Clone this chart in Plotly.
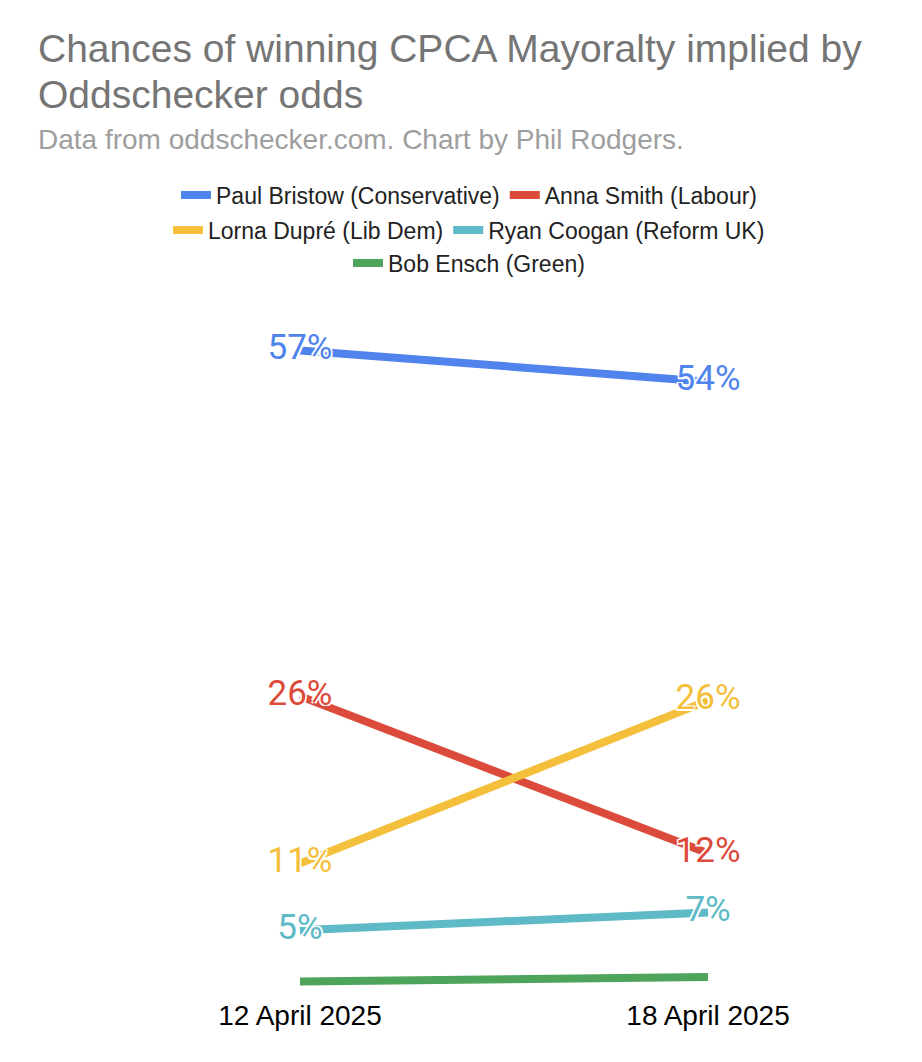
import plotly.graph_objects as go

# Datos (probabilidad implícita, %)
fechas = ["12 April 2025", "18 April 2025"]
candidatos = [
    "Paul Bristow (Conservative)",
    "Anna Smith (Labour)",
    "Lorna Dupré (Lib Dem)",
    "Ryan Coogan (Reform UK)",
    "Bob Ensch (Green)",
]
bristow = [57.0, 54.2]
smith = [26.0, 11.9]
dupre = [11.0, 25.6]
coogan = [5.0, 6.6]
ensch = [0.4, 0.8]

series = [bristow, smith, dupre, coogan, ensch]
colores = ["#5083EC", "#DB4A3A", "#F4C03C", "#5DBAC6", "#4EA45A"]
leyendas = ["legend", "legend", "legend2", "legend2", "legend3"]
con_etiqueta = [True, True, True, True, False]

halo = ("white 1.5px 1.5px 0px, white -1.5px -1.5px 0px, "
        "white 1.5px -1.5px 0px, white -1.5px 1.5px 0px")

fig = go.Figure()
for nombre, valores, color, ley, etq in zip(candidatos, series, colores, leyendas, con_etiqueta):
    fig.add_trace(go.Scatter(
        x=fechas, y=valores, name=nombre, legend=ley,
        mode="lines+text" if etq else "lines",
        text=[f"{v:.0f}%" for v in valores] if etq else None,
        textposition="middle center",
        textfont=dict(family="Roboto", size=35, color=color, shadow=halo),
        line=dict(color=color, width=8),
        cliponaxis=False,
    ))

leyenda_base = dict(orientation="h", x=0.5, xanchor="center", yanchor="middle",
                    font=dict(family="Liberation Sans, Arial", size=23, color="#222222"),
                    bgcolor="rgba(0,0,0,0)", itemwidth=30, tracegroupgap=0)

fig.update_layout(
    width=922, height=1062,
    margin=dict(l=0, r=0, t=300, b=74),
    plot_bgcolor="white", paper_bgcolor="white",
    font=dict(family="Liberation Sans, Arial"),
    legend=dict(leyenda_base, y=1.1642),
    legend2=dict(leyenda_base, y=1.1134),
    legend3=dict(leyenda_base, y=1.0654),
    xaxis=dict(type="category", range=[-0.7157, 1.544], showgrid=False,
               showline=False, zeroline=False, ticks="",
               tickfont=dict(size=28, color="#000000")),
    yaxis=dict(range=[-0.897, 60.81], visible=False),
    annotations=[
        dict(text="Chances of winning CPCA Mayoralty implied by", xref="paper", yref="paper",
             x=0.0304, y=1.3765, xanchor="left", yanchor="middle", showarrow=False,
             font=dict(size=39, color="#757575")),
        dict(text="Oddschecker odds", xref="paper", yref="paper",
             x=0.0304, y=1.3096, xanchor="left", yanchor="middle", showarrow=False,
             font=dict(size=39, color="#757575")),
        dict(text="Data from oddschecker.com. Chart by Phil Rodgers.", xref="paper", yref="paper",
             x=0.0304, y=1.2456, xanchor="left", yanchor="middle", showarrow=False,
             font=dict(size=28, color="#9E9E9E")),
    ],
)

fig.write_html("out.html")
